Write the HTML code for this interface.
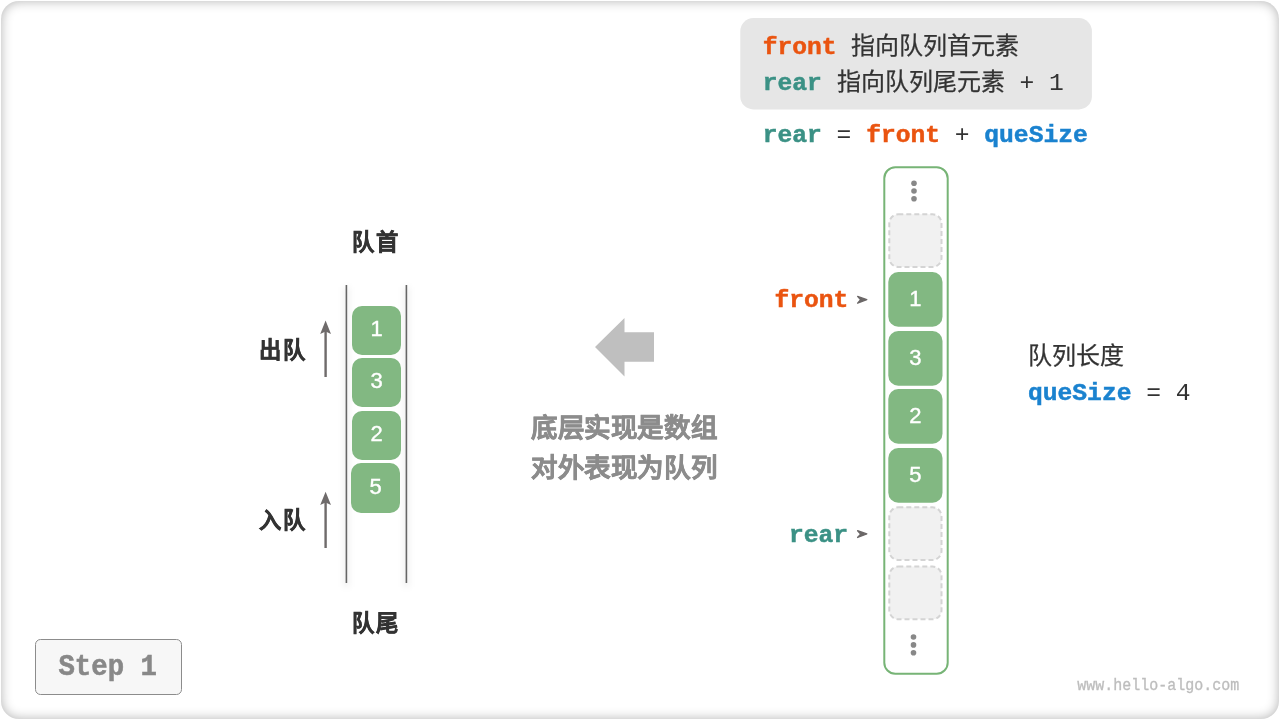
<!DOCTYPE html>
<html lang="zh-CN">
<head>
<meta charset="utf-8">
<style>
html,body{margin:0;padding:0;width:1280px;height:720px;overflow:hidden;background:#fff;}
.card{position:absolute;left:1px;top:1px;width:1278px;height:718px;border-radius:18px;background:#fff;
box-shadow:inset 0 0 12px 0px rgba(0,0,0,0.3);}
svg{position:absolute;left:0;top:0;will-change:transform;}
.m{font-family:"Liberation Mono",monospace;}
.s{font-family:"Liberation Sans",sans-serif;}
.b{font-weight:bold;}
</style>
</head>
<body>
<div class="card"></div>
<svg width="1280" height="720" viewBox="0 0 1280 720">
  <!-- top info box -->
  <rect x="740.3" y="18.1" width="351.6" height="91.3" rx="13" fill="#e6e6e6"/>
  <g class="m" font-size="24.63">
    <text x="762.7" y="53.75" class="b" fill="#ea5410" stroke="#ea5410" stroke-width="0.5">front</text>
    <text x="762.7" y="90.3" class="b" fill="#3b9185" stroke="#3b9185" stroke-width="0.5">rear</text>
    <text x="1019.4" y="90.3" fill="#333">+</text>
    <text x="1049" y="90.3" fill="#333">1</text>
  </g>
  <g class="s" font-size="24" fill="#333" stroke="#333" stroke-width="0.25">
    <text x="851.4" y="53.75">指向队列首元素</text>
    <text x="836.6" y="90.3">指向队列尾元素</text>
  </g>
  <!-- formula -->
  <g class="m" font-size="24.63">
    <text x="762.7" y="142" class="b" fill="#3b9185" stroke="#3b9185" stroke-width="0.5">rear</text>
    <text x="836.6" y="142" fill="#333">=</text>
    <text x="866.2" y="142" class="b" fill="#ea5410" stroke="#ea5410" stroke-width="0.5">front</text>
    <text x="954.8" y="142" fill="#333">+</text>
    <text x="984.3" y="142" class="b" fill="#1a82cf" stroke="#1a82cf" stroke-width="0.5">queSize</text>
  </g>

  <!-- left queue -->
  <g class="s b" font-size="22.3" fill="#333" stroke="#333" stroke-width="0.5" letter-spacing="2" text-anchor="middle">
    <text x="376" y="249.7">队首</text>
    <text x="376.4" y="630.7">队尾</text>
    <text x="283.2" y="358.4">出队</text>
    <text x="283.2" y="528.2">入队</text>
  </g>
  <defs><filter id="blur" x="-50%" y="-10%" width="200%" height="120%"><feGaussianBlur stdDeviation="3"/></filter></defs>
  <g filter="url(#blur)" stroke="#000" stroke-opacity="0.07" stroke-width="5">
    <line x1="346.4" y1="287" x2="346.4" y2="587"/>
    <line x1="406.4" y1="287" x2="406.4" y2="587"/>
  </g>
  <line x1="346.4" y1="285" x2="346.4" y2="583" stroke="#666" stroke-width="1.6"/>
  <line x1="406.4" y1="285" x2="406.4" y2="583" stroke="#666" stroke-width="1.6"/>
  <g fill="#82b882">
    <rect x="352" y="306" width="49" height="49" rx="10"/>
    <rect x="352" y="358" width="49" height="49" rx="10"/>
    <rect x="352" y="411" width="49" height="49" rx="10"/>
    <rect x="351" y="463" width="49" height="50" rx="10"/>
  </g>
  <g class="s" font-size="22" fill="#fff" stroke="#fff" stroke-width="0.4" text-anchor="middle">
    <text x="376.5" y="336.2">1</text>
    <text x="376.5" y="388.2">3</text>
    <text x="376.5" y="441.2">2</text>
    <text x="375.5" y="493.7">5</text>
  </g>
  <!-- small arrows -->
  <g fill="#6f6b6b">
    <rect x="324.4" y="331" width="2.4" height="46"/>
    <polygon points="325.6,320.6 331,334 325.6,331.5 320.2,334"/>
    <rect x="324.4" y="502" width="2.4" height="46"/>
    <polygon points="325.6,491.7 331,505.1 325.6,502.6 320.2,505.1"/>
  </g>

  <!-- big arrow -->
  <polygon points="595,346.9 624.5,318 624.5,332.2 654,332.2 654,361.7 624.5,361.7 624.5,376.4" fill="#bfbfbf"/>
  <g class="s b" font-size="26.5" fill="#8c8c8c" stroke="#8c8c8c" stroke-width="0.5" letter-spacing="0.6">
    <text x="531" y="437.2">底层实现是数组</text>
    <text x="531" y="477.2">对外表现为队列</text>
  </g>

  <!-- right array -->
  <rect x="884.3" y="167.3" width="63.4" height="506.4" rx="11" fill="#fff" stroke="#77b476" stroke-width="2"/>
  <g fill="#888">
    <circle cx="914" cy="183.3" r="2.8"/><circle cx="914" cy="191" r="2.8"/><circle cx="914" cy="198.7" r="2.8"/>
    <circle cx="913.5" cy="637" r="2.8"/><circle cx="913.5" cy="644.9" r="2.8"/><circle cx="913.5" cy="652.7" r="2.8"/>
  </g>
  <g fill="#f1f1f1" stroke="#d4d4d4" stroke-width="2" stroke-dasharray="5 3">
    <rect x="889.3" y="214.3" width="52.2" height="52.7" rx="9"/>
    <rect x="889.3" y="507.3" width="52.2" height="52.7" rx="9"/>
    <rect x="889.3" y="566.6" width="52.2" height="52.7" rx="9"/>
  </g>
  <g fill="#82b882">
    <rect x="888.3" y="272" width="54.2" height="54.7" rx="10"/>
    <rect x="888.3" y="331" width="54.2" height="54.7" rx="10"/>
    <rect x="888.3" y="389" width="54.2" height="54.7" rx="10"/>
    <rect x="888.3" y="448" width="54.2" height="54.7" rx="10"/>
  </g>
  <g class="s" font-size="22" fill="#fff" stroke="#fff" stroke-width="0.4" text-anchor="middle">
    <text x="915.4" y="306.3">1</text>
    <text x="915.4" y="365.3">3</text>
    <text x="915.4" y="423.3">2</text>
    <text x="915.4" y="482.3">5</text>
  </g>
  <g class="m b" font-size="24.63" text-anchor="end">
    <text x="848.3" y="306.8" fill="#ea5410" stroke="#ea5410" stroke-width="0.5">front</text>
    <text x="848" y="542" fill="#3b9185" stroke="#3b9185" stroke-width="0.5">rear</text>
  </g>
  <g fill="#6b6767" stroke="#6b6767" stroke-width="1.3" stroke-linejoin="round">
    <polygon points="857.6,296.4 866.8,299.6 857.6,303.2 860.6,299.8"/>
    <polygon points="857.6,530.7 866.8,533.9 857.6,537.5 860.6,534.1"/>
  </g>
  <text x="1028" y="364" class="s" font-size="24" fill="#333" stroke="#333" stroke-width="0.25">队列长度</text>
  <g class="m" font-size="24.63">
    <text x="1028" y="399.7" class="b" fill="#1a82cf" stroke="#1a82cf" stroke-width="0.5">queSize</text>
    <text x="1146.2" y="399.7" fill="#333">=</text>
    <text x="1175.8" y="399.7" fill="#333">4</text>
  </g>

  <!-- step button -->
  <rect x="35.5" y="639.5" width="146" height="55" rx="5" fill="#f7f7f7" stroke="#8c8c8c" stroke-width="1"/>
  <text transform="translate(58.4 674.8) scale(1 1.1)" x="0" y="0" class="m b" font-size="27.35" fill="#888" stroke="#888" stroke-width="0.5">Step 1</text>

  <!-- watermark -->
  <text transform="translate(1077.2 689.7) scale(1 1.08)" x="0" y="0" class="m" font-size="15" fill="#bdbdbd" stroke="#bdbdbd" stroke-width="0.3">www.hello-algo.com</text>
</svg>
</body>
</html>
